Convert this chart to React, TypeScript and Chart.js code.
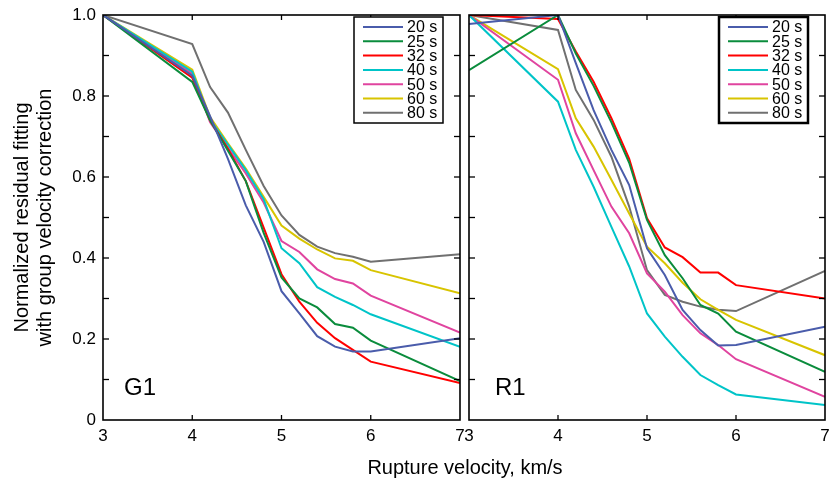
import { useEffect, useRef } from 'react';
import { Chart, registerables } from 'chart.js';

Chart.register(...registerables);

const FONT = '"Liberation Sans", Arial, Helvetica, sans-serif';

// Rupture velocity grid (km/s)
const VELOCITY = [3, 4, 4.2, 4.4, 4.6, 4.8, 5, 5.2, 5.4, 5.6, 5.8, 6, 7];
const PERIODS = ['20 s', '25 s', '32 s', '40 s', '50 s', '60 s', '80 s'];
const COLORS = ['#4a5cab', '#0a8c3c', '#ff0000', '#00c4c8', '#e0449f', '#d8c400', '#707070'];
const X_TICKS = [3, 4, 5, 6, 7];

// G1 panel
const G1_20 = [1.0, 0.85, 0.75, 0.645, 0.53, 0.44, 0.318, 0.263, 0.207, 0.181, 0.169, 0.169, 0.202];
const G1_25 = [1.0, 0.835, 0.74, 0.665, 0.59, 0.462, 0.352, 0.3, 0.278, 0.237, 0.228, 0.196, 0.096];
const G1_32 = [1.0, 0.845, 0.74, 0.67, 0.59, 0.475, 0.36, 0.292, 0.24, 0.202, 0.173, 0.144, 0.091];
const G1_40 = [1.0, 0.86, 0.742, 0.68, 0.617, 0.545, 0.424, 0.387, 0.328, 0.304, 0.284, 0.261, 0.181];
const G1_50 = [1.0, 0.855, 0.735, 0.672, 0.609, 0.537, 0.442, 0.415, 0.372, 0.348, 0.337, 0.307, 0.216];
const G1_60 = [1.0, 0.865, 0.748, 0.683, 0.621, 0.551, 0.48, 0.448, 0.421, 0.399, 0.393, 0.37, 0.313];
const G1_80 = [1.0, 0.928, 0.822, 0.759, 0.667, 0.578, 0.505, 0.457, 0.428, 0.412, 0.403, 0.391, 0.409];

// R1 panel
const R1_20 = [0.978, 1.0, 0.881, 0.765, 0.667, 0.58, 0.424, 0.358, 0.272, 0.222, 0.184, 0.185, 0.23];
const R1_25 = [0.864, 1.0, 0.905, 0.825, 0.735, 0.635, 0.494, 0.407, 0.35, 0.284, 0.263, 0.218, 0.119];
const R1_32 = [1.0, 0.99, 0.91, 0.835, 0.745, 0.645, 0.498, 0.426, 0.402, 0.364, 0.364, 0.333, 0.3];
const R1_40 = [1.0, 0.786, 0.667, 0.576, 0.477, 0.379, 0.263, 0.206, 0.156, 0.111, 0.086, 0.063, 0.037];
const R1_50 = [1.0, 0.84, 0.708, 0.617, 0.527, 0.461, 0.362, 0.317, 0.259, 0.214, 0.185, 0.15, 0.057];
const R1_60 = [1.0, 0.866, 0.745, 0.675, 0.593, 0.51, 0.428, 0.387, 0.339, 0.298, 0.272, 0.247, 0.16];
const R1_80 = [1.0, 0.963, 0.815, 0.741, 0.65, 0.527, 0.37, 0.309, 0.292, 0.28, 0.272, 0.269, 0.368];

const G1_SERIES = [G1_20, G1_25, G1_32, G1_40, G1_50, G1_60, G1_80];
const R1_SERIES = [R1_20, R1_25, R1_32, R1_40, R1_50, R1_60, R1_80];

const Y_TITLE = ['Normalized residual fitting', 'with group velocity correction'];
const X_TITLE = 'Rupture velocity, km/s';

const panelPlugin = {
  id: 'panelFrame',
  afterDatasetsDraw(chart: any, _args: any, opts: any) {
    const { ctx, chartArea } = chart;
    const { left, right, top, bottom } = chartArea;
    const xs = chart.scales.x;
    const ys = chart.scales.y;
    ctx.save();
    // frame
    ctx.strokeStyle = '#000';
    ctx.lineWidth = 1.6;
    ctx.strokeRect(left, top, right - left, bottom - top);
    // inward ticks
    ctx.lineWidth = 1.3;
    const seg = (x1: number, y1: number, x2: number, y2: number) => {
      ctx.beginPath();
      ctx.moveTo(x1, y1);
      ctx.lineTo(x2, y2);
      ctx.stroke();
    };
    ys.ticks.forEach((t: any) => {
      if (t.value <= 0.001 || t.value >= 0.999) return;
      const y = ys.getPixelForValue(t.value);
      seg(left, y, left + 6, y);
      seg(right - 6, y, right, y);
    });
    xs.ticks.forEach((t: any) => {
      if (t.value <= 3.001 || t.value >= 6.999) return;
      const x = xs.getPixelForValue(t.value);
      seg(x, bottom, x, bottom - 5);
      seg(x, top, x, top + 5);
    });
    // panel label
    ctx.fillStyle = '#000';
    ctx.font = `24px ${FONT}`;
    ctx.textAlign = 'left';
    ctx.textBaseline = 'alphabetic';
    ctx.fillText(opts.label, left + opts.labelDx, bottom - 25);
    // legend
    const bw = 89;
    const bh = 106;
    const bx = right - 17 - bw;
    const by = top + 2;
    ctx.fillStyle = '#fff';
    ctx.fillRect(bx, by, bw, bh);
    ctx.lineWidth = opts.legendBorder;
    ctx.strokeStyle = '#000';
    ctx.strokeRect(bx, by, bw, bh);
    ctx.font = `16px ${FONT}`;
    ctx.textBaseline = 'middle';
    chart.data.datasets.forEach((ds: any, i: number) => {
      const cy = by + 10 + i * 14.3;
      ctx.strokeStyle = ds.borderColor;
      ctx.lineWidth = 2;
      seg(bx + 9, cy, bx + 49, cy);
      ctx.fillStyle = '#000';
      ctx.fillText(ds.label, bx + 53, cy + 1);
    });
    ctx.restore();
  },
};

function buildConfig(series: number[][], panel: 'G1' | 'R1'): any {
  const isLeft = panel === 'G1';
  return {
    type: 'line',
    data: {
      datasets: series.map((vals, i) => ({
        label: PERIODS[i],
        data: VELOCITY.map((v, j) => ({ x: v, y: vals[j] })),
        borderColor: COLORS[i],
        backgroundColor: COLORS[i],
        borderWidth: 2,
        pointRadius: 0,
        tension: 0,
        fill: false,
      })),
    },
    options: {
      responsive: false,
      animation: false,
      devicePixelRatio: 1,
      layout: {
        padding: isLeft
          ? { left: 0, right: 10, top: 15, bottom: 0 }
          : { left: 9, right: 6, top: 15, bottom: 0 },
      },
      plugins: {
        legend: { display: false },
        tooltip: { enabled: false },
        panelFrame: { label: panel, labelDx: isLeft ? 21 : 26, legendBorder: isLeft ? 1.5 : 2.5 },
      },
      scales: {
        x: {
          type: 'linear',
          min: 3,
          max: 7,
          afterBuildTicks: (scale: any) => {
            scale.ticks = X_TICKS.map((v) => ({ value: v }));
          },
          afterFit: (scale: any) => {
            scale.height = 58;
            scale.paddingLeft = 0;
            scale.paddingRight = 0;
          },
          grid: { display: false, drawTicks: false },
          border: { display: false },
          ticks: {
            color: '#000',
            padding: 6,
            maxRotation: 0,
            autoSkip: false,
            font: { family: FONT, size: 17 },
            callback: (v: any) => String(v),
          },
        },
        y: {
          type: 'linear',
          min: 0,
          max: 1,
          display: isLeft,
          afterFit: (scale: any) => {
            scale.width = isLeft ? 103 : 0;
            scale.paddingTop = 0;
            scale.paddingBottom = 0;
          },
          grid: { display: false, drawTicks: false },
          border: { display: false },
          title: {
            display: isLeft,
            text: Y_TITLE,
            color: '#000',
            font: { family: FONT, size: 20, lineHeight: 1.15 },
            padding: { top: 11, bottom: 0 },
          },
          ticks: {
            stepSize: 0.1,
            autoSkip: false,
            color: '#000',
            padding: 7,
            font: { family: FONT, size: 17 },
            callback: (v: any) => {
              const r = Math.round(Number(v) * 10);
              if (r % 2 !== 0) return '';
              if (r === 0) return '0';
              return (r / 10).toFixed(1);
            },
          },
        },
      },
    },
    plugins: [panelPlugin],
  };
}

export default function App() {
  const leftRef = useRef<HTMLCanvasElement>(null);
  const rightRef = useRef<HTMLCanvasElement>(null);

  useEffect(() => {
    const c1 = new Chart(leftRef.current as HTMLCanvasElement, buildConfig(G1_SERIES, 'G1'));
    const c2 = new Chart(rightRef.current as HTMLCanvasElement, buildConfig(R1_SERIES, 'R1'));
    return () => {
      c1.destroy();
      c2.destroy();
    };
  }, []);

  return (
    <div
      style={{
        position: 'fixed',
        left: 0,
        top: 0,
        width: 831,
        height: 478,
        background: '#fff',
        overflow: 'hidden',
      }}
    >
      <canvas
        ref={leftRef}
        width={470}
        height={478}
        style={{ position: 'absolute', left: 0, top: 0, width: 470, height: 478 }}
      />
      <canvas
        ref={rightRef}
        width={371}
        height={478}
        style={{ position: 'absolute', left: 460, top: 0, width: 371, height: 478 }}
      />
      <div
        style={{
          position: 'absolute',
          left: 265,
          width: 400,
          top: 455,
          textAlign: 'center',
          fontFamily: FONT,
          fontSize: 20,
          lineHeight: '24px',
          color: '#000',
        }}
      >
        {X_TITLE}
      </div>
    </div>
  );
}
